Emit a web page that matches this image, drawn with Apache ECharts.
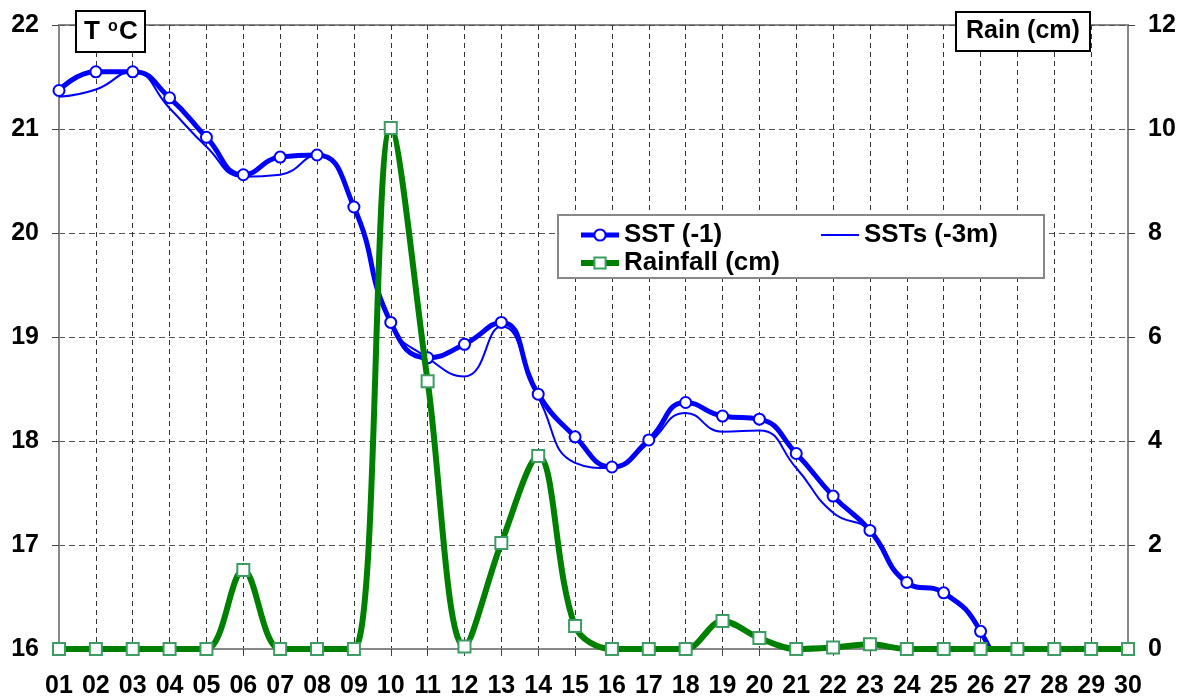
<!DOCTYPE html>
<html>
<head>
<meta charset="utf-8">
<script src="https://cdn.jsdelivr.net/npm/echarts@6/dist/echarts.min.js"></script>
<style>
html,body{margin:0;padding:0;background:#fff;}
#chart{width:1181px;height:699px;}
</style>
</head>
<body>
<div id="chart"></div>
<script>
var days = ['01','02','03','04','05','06','07','08','09','10','11','12','13','14','15','16','17','18','19','20','21','22','23','24','25','26','27','28','29','30'];
var sst = [21.37,21.55,21.55,21.30,20.92,20.56,20.73,20.75,20.25,19.14,18.80,18.93,19.14,18.45,18.04,17.75,18.01,18.37,18.24,18.21,17.88,17.47,17.14,16.64,16.54,16.17,15.30,null,null,null];
var ssts = [21.31,21.38,21.55,21.20,20.83,20.54,20.56,20.75,20.25,19.12,18.80,18.62,19.10,18.42,17.79,17.74,17.98,18.27,18.09,18.10,17.74,17.31,17.14,16.64,16.54,16.17,15.30,null,null,null];
var rain = [0,0,0,0,0,1.52,0,0,0,10.02,5.15,0.05,2.04,3.71,0.44,0,0,0,0.54,0.21,0,0.03,0.09,0,0,0,0,0,0,0];
var tempTicks = {min:16, max:22, interval:1};
var rainTicks = {min:0, max:12, interval:2};

var FONT = '"Liberation Sans", Arial, sans-serif';
var chart = echarts.init(document.getElementById('chart'), null, {renderer:'canvas'});
var option = {
  backgroundColor:'#ffffff',
  animation:false,
  grid:{left:59, right:53, top:25, bottom:50, show:true, borderColor:'#888888', borderWidth:2, backgroundColor:'transparent'},
  title:[
    {text:'T {sup|o}C', left:76, top:11, padding:[8,8,7,8], borderColor:'#000', borderWidth:2, backgroundColor:'#fff',
     textStyle:{fontFamily:FONT, fontSize:26, fontWeight:'bold', color:'#000',
       rich:{sup:{fontFamily:FONT, fontSize:16, fontWeight:'bold', color:'#000', verticalAlign:'top', padding:[0,1,10,1]}}}},
    {text:'Rain (cm)', left:956, top:12, padding:[7,10,7,10], borderColor:'#000', borderWidth:2, backgroundColor:'#fff',
     textStyle:{fontFamily:FONT, fontSize:25, fontWeight:'bold', color:'#000'}}
  ],
  graphic:[
    {type:'rect', z:5, shape:{x:558, y:215, width:486, height:63}, style:{fill:'#fff', stroke:'#888', lineWidth:2}}
  ],
  legend:[
    {data:[{name:'SST (-1)', lineStyle:{width:5}}, {name:'Rainfall (cm)', lineStyle:{width:6}}],
     orient:'vertical', left:578, top:222, itemWidth:38, itemHeight:14, itemGap:2, padding:0, z:10,
     textStyle:{fontFamily:FONT, fontSize:26, fontWeight:'bold', color:'#000'}},
    {data:[{name:'SSTs (-3m)', icon:'rect'}], orient:'vertical', left:821, top:222, itemWidth:38, itemHeight:2, itemGap:2, padding:0, z:10,
     textStyle:{fontFamily:FONT, fontSize:26, fontWeight:'bold', color:'#000'}}
  ],
  xAxis:{
    type:'category', data:days, boundaryGap:false,
    axisLine:{show:true, lineStyle:{color:'#888', width:2}},
    axisTick:{show:true, length:7, alignWithLabel:true, lineStyle:{color:'#444', width:1}},
    axisLabel:{interval:0, margin:25, fontFamily:FONT, fontSize:25, fontWeight:'bold', color:'#000'},
    splitLine:{show:true, interval:0, lineStyle:{color:'#333', type:[5,4], width:1}}
  },
  yAxis:[
    {type:'value', min:tempTicks.min, max:tempTicks.max, interval:tempTicks.interval, position:'left',
     axisLine:{show:true, lineStyle:{color:'#888', width:2}},
     axisTick:{show:true, length:7, lineStyle:{color:'#444'}},
     axisLabel:{margin:20, fontFamily:FONT, fontSize:25, fontWeight:'bold', color:'#000'},
     splitLine:{show:true, lineStyle:{color:'#555', type:[6,4], width:1}}},
    {type:'value', min:rainTicks.min, max:rainTicks.max, interval:rainTicks.interval, position:'right',
     axisLine:{show:true, lineStyle:{color:'#888', width:2}},
     axisTick:{show:true, length:7, lineStyle:{color:'#444'}},
     axisLabel:{margin:20, fontFamily:FONT, fontSize:25, fontWeight:'bold', color:'#000'},
     splitLine:{show:false}}
  ],
  series:[
    {name:'SSTs (-3m)', type:'line', yAxisIndex:0, data:ssts, smooth:0.5, symbol:'none', showSymbol:false, clip:true,
     lineStyle:{color:'#0000ff', width:2}, itemStyle:{color:'#0000ff'}, z:2},
    {name:'SST (-1)', type:'line', yAxisIndex:0, data:sst, smooth:0.5, symbol:'circle', symbolSize:11, clip:true,
     lineStyle:{color:'#0000ff', width:5}, itemStyle:{color:'#ffffff', borderColor:'#0000ff', borderWidth:2}, z:3},
    {name:'Rainfall (cm)', type:'line', yAxisIndex:1, data:rain, smooth:0.35, symbol:'rect', symbolSize:12, clip:false,
     lineStyle:{color:'#008000', width:6}, itemStyle:{color:'#ffffff', borderColor:'#3c9c64', borderWidth:2}, z:4}
  ]
};
chart.setOption(option);
</script>
</body>
</html>
